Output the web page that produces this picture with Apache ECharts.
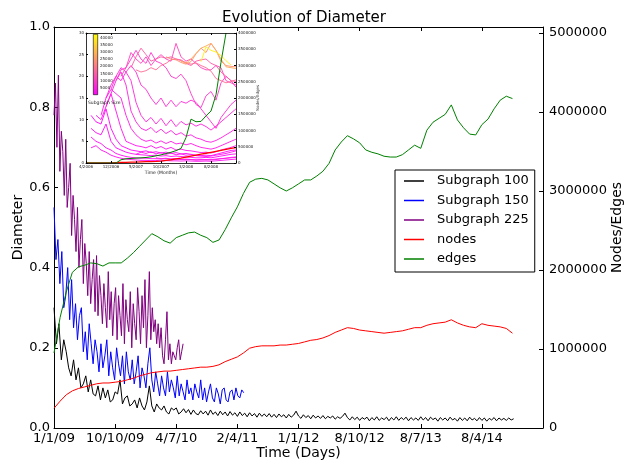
<!DOCTYPE html>
<html><head><meta charset="utf-8">
<script src="https://cdn.jsdelivr.net/npm/echarts@6/dist/echarts.min.js"></script>
<style>html,body{margin:0;padding:0;background:#fff}#c{width:624px;height:461px}</style>
</head><body><div id="c"></div>
<script>
// ---------- main chart data ----------
const xTickLabels = ['1/1/09','10/10/09','4/7/10','2/4/11','1/1/12','8/10/12','8/7/13','8/4/14'];
const xTickStep = 250;

const sub100Step = 10;
const sub100 = [
0.30,0.21,0.26,0.17,0.22,0.19,0.15,0.13,0.17,0.12,
0.15,0.10,0.11,0.13,0.09,0.12,0.085,0.08,0.105,0.07,
0.10,0.075,0.095,0.065,0.07,0.09,0.085,0.12,0.06,0.075,
0.08,0.055,0.06,0.07,0.05,0.075,0.055,0.045,0.065,0.105,
0.055,0.04,0.06,0.05,0.045,0.055,0.04,0.035,0.05,0.045,
0.05,0.035,0.04,0.048,0.038,0.046,0.034,0.045,0.036,0.033,
0.043,0.035,0.042,0.032,0.045,0.034,0.04,0.031,0.042,0.033,
0.04,0.03,0.041,0.032,0.038,0.029,0.04,0.031,0.037,0.028,
0.038,0.03,0.036,0.027,0.037,0.029,0.035,0.028,0.036,0.027,
0.034,0.026,0.035,0.028,0.033,0.025,0.034,0.027,0.032,0.042,
0.03,0.024,0.033,0.026,0.031,0.023,0.032,0.025,0.03,0.024,
0.031,0.023,0.029,0.025,0.03,0.022,0.028,0.024,0.029,0.037,
0.026,0.02,0.028,0.021,0.027,0.019,0.026,0.022,0.027,0.018,
0.026,0.02,0.028,0.019,0.025,0.021,0.027,0.018,0.026,0.02,
0.028,0.019,0.026,0.021,0.027,0.018,0.026,0.02,0.025,0.019,
0.028,0.02,0.026,0.018,0.027,0.021,0.025,0.017,0.026,0.02,
0.025,0.018,0.027,0.02,0.024,0.017,0.026,0.019,0.025,0.018,
0.027,0.02,0.024,0.018,0.026,0.019,0.025,0.017,0.024,0.02,
0.026,0.018,0.025,0.02,0.024,0.019,0.025,0.02,0.023
];

const sub150Step = 8;
const sub150 = [
0.55,0.42,0.47,0.36,0.44,0.30,0.33,0.40,0.27,0.37,
0.25,0.31,0.22,0.28,0.30,0.19,0.24,0.17,0.26,0.21,
0.16,0.22,0.19,0.14,0.21,0.15,0.18,0.22,0.13,0.19,
0.15,0.12,0.20,0.16,0.13,0.18,0.11,0.19,0.14,0.12,
0.17,0.11,0.14,0.18,0.10,0.15,0.13,0.10,0.16,0.20,
0.12,0.09,0.14,0.11,0.08,0.13,0.10,0.08,0.14,0.09,
0.12,0.10,0.075,0.13,0.08,0.11,0.09,0.07,0.12,0.085,
0.10,0.07,0.11,0.09,0.075,0.12,0.07,0.10,0.065,0.09,
0.11,0.075,0.065,0.10,0.085,0.06,0.095,0.10,0.07,0.065,
0.09,0.095,0.07,0.10,0.08,0.075,0.095,0.088
];

const sub225Step = 6;
const sub225 = [
0.78,0.86,0.70,0.88,0.64,0.74,0.69,0.58,0.72,0.55,
0.60,0.66,0.48,0.58,0.52,0.44,0.55,0.40,0.47,0.52,
0.36,0.46,0.41,0.33,0.44,0.31,0.37,0.42,0.29,0.43,
0.28,0.38,0.33,0.26,0.36,0.30,0.25,0.39,0.27,0.34,
0.23,0.31,0.35,0.22,0.33,0.28,0.23,0.36,0.21,0.32,
0.27,0.24,0.34,0.20,0.31,0.26,0.22,0.35,0.29,0.21,
0.33,0.25,0.37,0.20,0.28,0.39,0.22,0.30,0.24,0.27,
0.21,0.26,0.20,0.25,0.18,0.16,0.22,0.29,0.17,0.21,
0.16,0.19,0.18,0.17,0.20,0.22,0.17,0.19,0.21
];

const nodesStep = 25;
const nodesMillions = [
0.25,0.34,0.42,0.47,0.50,0.52,0.54,0.56,0.57,0.57,
0.58,0.59,0.61,0.63,0.66,0.68,0.70,0.71,0.72,0.72,
0.73,0.74,0.75,0.76,0.77,0.77,0.78,0.80,0.84,0.87,
0.90,0.95,1.01,1.03,1.04,1.04,1.04,1.05,1.05,1.06,
1.07,1.09,1.11,1.12,1.14,1.17,1.21,1.24,1.27,1.26,
1.24,1.23,1.22,1.21,1.20,1.21,1.22,1.23,1.25,1.27,
1.27,1.30,1.32,1.33,1.34,1.37,1.33,1.30,1.28,1.27,
1.32,1.30,1.29,1.28,1.26,1.20
];

const edgesStep = 25;
const edgesMillions = [
0.95,1.40,1.72,1.97,2.04,2.06,2.09,2.08,2.05,2.09,
2.09,2.09,2.15,2.22,2.30,2.38,2.46,2.42,2.37,2.34,
2.41,2.44,2.47,2.48,2.44,2.41,2.35,2.38,2.51,2.66,
2.80,2.97,3.11,3.15,3.16,3.14,3.09,3.04,3.00,3.04,
3.09,3.14,3.14,3.19,3.25,3.35,3.52,3.62,3.70,3.66,
3.61,3.52,3.49,3.47,3.44,3.43,3.43,3.46,3.52,3.58,
3.54,3.77,3.87,3.92,3.97,4.09,3.90,3.80,3.72,3.71,
3.84,3.91,4.04,4.15,4.20,4.17
];

// ---------- inset data ----------
const insetXLabels = ['4/2006','12/2006','5/2007','10/2007','3/2008','8/2008'];
const insetXStep = 5;
const insetStarts = [1,1,1,1,2,3,4,4,5,6,7,9,10,16,19,23,10,14];
const insetSizes  = [1000,1500,2000,2500,3000,4000,5000,6000,7000,9000,11000,15000,18000,24000,28000,40500,3500,4500];
const insetValues = [
[11,9.5,9,12.5,8,5.5,4,3.5,3,2.8,2.6,2.8,2.4,2.6,2.3,2.5,2.2,2.4,2.1,2.2,2,1.8,1.7,1.8,1.7,2,2.3,2.6,2.9,3],
[8,7,6.5,9,5,3.5,3,2.5,2.2,2,1.9,1.8,1.7,1.8,1.6,1.7,1.5,1.6,1.5,1.4,1.3,1.2,1.2,1.3,1.2,1.4,1.6,1.8,2,2.1],
[6,5,4.5,3.5,3,2.2,1.8,1.5,1.3,1.2,1.1,1.1,1,1,0.9,1,0.9,0.9,0.8,0.8,0.8,0.7,0.7,0.8,0.7,0.8,1,1.1,1.2,1.3],
[3.5,4,3,2.5,1.8,1.4,1.1,0.9,0.8,0.7,0.6,0.6,0.55,0.6,0.5,0.55,0.5,0.5,0.45,0.5,0.45,0.4,0.4,0.45,0.4,0.5,0.6,0.7,0.8,0.9],
[11,10,13,16,12,8,5,4.5,4,3.8,3.5,4,3.4,3.8,3.2,3.6,3,3.2,2.9,2.8,2.6,2.4,2.5,2.3,2.6,3,3.3,3.6,4],
[11,15,17,16,15,11,8,6.5,5.5,5,5.3,4.6,5.1,4.5,5,4.4,4.6,4.2,4.5,4,3.6,3.4,3.2,3.5,4,4.5,5,5.5],
[13,16,19,21,18,12,9.5,8,7.5,8.2,7,7.8,6.8,7.5,6.5,7,6.2,6.5,5.8,5.5,5,4.8,5.2,5.8,6.5,7.2,8],
[15,18,20,19,21,19,14,11,9.5,10.5,9,10.3,8.6,10,8.4,9.6,8.8,9.2,8.5,9,8.4,7.6,8.5,9.5,10.5,11.5,12.5],
[17,20,22,21,22.5,21,18,17,15,13.5,15,13,14.5,13,14.2,13.8,14.5,14,12.5,11,9.5,8,10.5,12,13.5,14.5],
[19,21.5,22,24,26,24,23,25.5,23.5,23,22,20,19.5,20.5,19,16,13.5,12.8,15.5,16.5,14.5,18.5,20,19,17.5],
[20,22,25.5,24,23,24.5,22.5,24,25,24,23.5,27.6,24.5,23.5,24,23,22,21.5,21.5,22.5,22,19,18.5,18],
[22,24.5,26.5,25,23.5,24,24.5,24.2,24.5,24,23.8,23,22.5,23.5,23.8,24,23,22.5,21,20,19,18.8],
[21.5,21,21.3,22,21.5,22.5,23,23.8,24,23.6,23.2,22.8,23.1,22.5,22,21.2,19.5,19,18.5,18.8,19.2],
[24.5,24,23.8,23.2,22.8,23.4,25.2,26.5,25.5,27.6,26,23.5,22.5,22.3,22.2],
[23.5,23,24,25.3,26.5,27,27.6,26,24,22.2,22,21.8],
[23.4,26.8,26,25.6,24.8,23.6,22.6],
[2,2.5,2.2,2.6,2.1,2.4,2,2.3,1.9,2.1,1.8,1.9,1.7,1.6,1.5,1.6,1.8,2,2.2,2.5,2.8],
[1.2,1,1.1,0.9,1,0.8,0.9,0.8,0.7,0.8,0.7,0.8,0.9,1,1.1,1.3,1.4]
];
const insetNodes = [0,0,0,0,0,5000,10000,15000,20000,25000,30000,35000,40000,45000,50000,60000,80000,100000,125000,150000,180000,210000,240000,270000,300000,330000,360000,390000,420000,450000,470000];
const insetEdges = [0,0,0,0,0,0,0,100000,130000,140000,150000,160000,170000,190000,220000,250000,290000,330000,380000,450000,780000,1350000,1270000,1280000,1450000,1600000,2100000,3100000,4000000];
const colorbarMax = 42700;
const colorbarTicks = [5000,10000,15000,20000,25000,30000,35000,40000];

// ---------- build ----------
const FONT = 'DejaVu Sans';
const stepped = (arr, step, scale) => arr.map((v, i) => [i * step, v * (scale || 1)]);
function spring(size) {
  const t = Math.max(0, Math.min(1, size / colorbarMax));
  return 'rgb(255,' + Math.round(255 * t) + ',' + Math.round(255 * (1 - t)) + ')';
}
const axLine = (w) => ({ show: true, onZero: false, lineStyle: { color: '#000', width: w } });
const tickIn = (len) => ({ inside: true, length: len, lineStyle: { color: '#000', width: 1 } });

const series = [
  { name: 'Subgraph 100', type: 'line', data: stepped(sub100, sub100Step), xAxisIndex: 0, yAxisIndex: 0,
    symbol: 'none', lineStyle: { color: '#000000', width: 1 }, itemStyle: { color: '#000000' } },
  { name: 'Subgraph 150', type: 'line', data: stepped(sub150, sub150Step), xAxisIndex: 0, yAxisIndex: 0,
    symbol: 'none', lineStyle: { color: '#0000ff', width: 1 }, itemStyle: { color: '#0000ff' } },
  { name: 'Subgraph 225', type: 'line', data: stepped(sub225, sub225Step), xAxisIndex: 0, yAxisIndex: 0,
    symbol: 'none', lineStyle: { color: '#800080', width: 1 }, itemStyle: { color: '#800080' } },
  { name: 'nodes', type: 'line', data: stepped(nodesMillions, nodesStep, 1e6), xAxisIndex: 0, yAxisIndex: 1,
    symbol: 'none', lineStyle: { color: '#ff0000', width: 1 }, itemStyle: { color: '#ff0000' } },
  { name: 'edges', type: 'line', data: stepped(edgesMillions, edgesStep, 1e6), xAxisIndex: 0, yAxisIndex: 1,
    symbol: 'none', lineStyle: { color: '#008000', width: 1 }, itemStyle: { color: '#008000' } }
];

insetValues.forEach((vals, k) => {
  const c = spring(insetSizes[k]);
  series.push({ type: 'line', xAxisIndex: 2, yAxisIndex: 2, symbol: 'none', silent: true,
    data: vals.map((v, i) => [insetStarts[k] + i, v]),
    lineStyle: { color: c, width: 0.9 }, z: 3 });
});
series.push({ type: 'line', xAxisIndex: 2, yAxisIndex: 3, symbol: 'none', silent: true,
  data: insetNodes.map((v, i) => [i, v]), lineStyle: { color: '#ff0000', width: 1.3 }, z: 4 });
series.push({ type: 'line', xAxisIndex: 2, yAxisIndex: 3, symbol: 'none', silent: true,
  data: insetEdges.map((v, i) => [i, v]), lineStyle: { color: '#008000', width: 1 }, z: 4 });
series.push({ type: 'bar', xAxisIndex: 4, yAxisIndex: 4, silent: true, barWidth: '100%',
  data: [colorbarMax],
  itemStyle: { borderColor: '#000', borderWidth: 0.6,
    color: { type: 'linear', x: 0, y: 1, x2: 0, y2: 0,
      colorStops: [{ offset: 0, color: spring(0) }, { offset: 0.5, color: spring(colorbarMax / 2) }, { offset: 1, color: spring(colorbarMax) }] } } });

const insetLbl = { fontSize: 4, color: '#222', fontFamily: FONT, margin: 2 };

const option = {
  animation: false,
  backgroundColor: '#fff',
  textStyle: { fontFamily: FONT },
  title: { text: 'Evolution of Diameter', left: 299, textAlign: 'center', top: 6,
    textStyle: { fontSize: 15, fontWeight: 'normal', color: '#000', fontFamily: FONT } },
  legend: {
    data: ['Subgraph 100', 'Subgraph 150', 'Subgraph 225', 'nodes', 'edges'],
    orient: 'vertical', left: 395, top: 170, icon: 'rect', itemWidth: 20, itemHeight: 1.5,
    itemGap: 3.5, padding: [3, 6, 5, 9], borderColor: '#000', borderWidth: 1, backgroundColor: '#fff',
    textStyle: { fontSize: 13, color: '#000', fontFamily: FONT, lineHeight: 16, padding: [0, 0, 0, 8] },
    selectedMode: false
  },
  grid: [
    { left: 54, top: 27, width: 489, height: 401, containLabel: false, outerBoundsMode: 'none' },
    { left: 86, top: 33, width: 150, height: 130, containLabel: false, outerBoundsMode: 'none',
      show: true, backgroundColor: '#fff', borderWidth: 0, z: 2 },
    { left: 93, top: 34, width: 5, height: 61, containLabel: false, outerBoundsMode: 'none', z: 5 }
  ],
  xAxis: [
    { type: 'value', gridIndex: 0, min: 0, max: 2000, interval: xTickStep, position: 'bottom',
      axisLine: axLine(1), axisTick: tickIn(4), splitLine: { show: false },
      axisLabel: { fontSize: 13, color: '#000', margin: 4, fontFamily: FONT,
        formatter: v => xTickLabels[Math.round(v / xTickStep)] || '' },
      name: 'Time (Days)', nameLocation: 'middle', nameGap: 18, nameMoveOverlap: false,
      nameTextStyle: { fontSize: 14, color: '#000', fontFamily: FONT } },
    { type: 'value', gridIndex: 0, min: 0, max: 2000, interval: xTickStep, position: 'top',
      axisLine: axLine(1), axisTick: tickIn(4), axisLabel: { show: false }, splitLine: { show: false } },
    { type: 'value', gridIndex: 1, min: 0, max: 30, interval: insetXStep, position: 'bottom',
      axisLine: axLine(0.8), axisTick: tickIn(2), splitLine: { show: false },
      axisLabel: Object.assign({}, insetLbl, { formatter: v => insetXLabels[Math.round(v / insetXStep)] || '' }),
      name: 'Time (Months)', nameLocation: 'middle', nameGap: 7, nameMoveOverlap: false,
      nameTextStyle: { fontSize: 4.5, color: '#222', fontFamily: FONT }, z: 6 },
    { type: 'value', gridIndex: 1, min: 0, max: 30, interval: insetXStep, position: 'top',
      axisLine: axLine(0.8), axisTick: tickIn(2),
      axisLabel: { show: false }, splitLine: { show: false }, z: 6 },
    { type: 'category', gridIndex: 2, data: ['c'], show: false }
  ],
  yAxis: [
    { type: 'value', gridIndex: 0, min: 0, max: 1, interval: 0.2, position: 'left',
      axisLine: axLine(1), axisTick: tickIn(4), splitLine: { show: false },
      axisLabel: { fontSize: 13, color: '#000', margin: 4, fontFamily: FONT, formatter: v => v.toFixed(1) },
      name: 'Diameter', nameLocation: 'middle', nameGap: 29, nameRotate: 90, nameMoveOverlap: false,
      nameTextStyle: { fontSize: 14, color: '#000', fontFamily: FONT } },
    { type: 'value', gridIndex: 0, min: 0, max: 5076000, interval: 1000000, position: 'right',
      axisLine: axLine(1), axisTick: tickIn(4), splitLine: { show: false },
      axisLabel: { fontSize: 13, color: '#000', margin: 6, fontFamily: FONT,
        formatter: v => (v % 1000000 === 0 ? String(v) : '') },
      name: 'Nodes/Edges', nameLocation: 'middle', nameGap: 67, nameRotate: 90, nameMoveOverlap: false,
      nameTextStyle: { fontSize: 14, color: '#000', fontFamily: FONT } },
    { type: 'value', gridIndex: 1, min: 0, max: 30, interval: 5, position: 'left',
      axisLine: axLine(0.8), axisTick: tickIn(2), splitLine: { show: false },
      axisLabel: insetLbl, z: 6 },
    { type: 'value', gridIndex: 1, min: 0, max: 4000000, interval: 500000, position: 'right',
      axisLine: axLine(0.8), axisTick: tickIn(2), splitLine: { show: false },
      axisLabel: Object.assign({}, insetLbl, { formatter: v => String(v) }),
      name: 'Nodes/Edges', nameLocation: 'middle', nameGap: 20, nameRotate: 90, nameMoveOverlap: false,
      nameTextStyle: { fontSize: 4, color: '#333', fontFamily: FONT }, z: 6 },
    { type: 'value', gridIndex: 2, min: 0, max: colorbarMax, interval: 5000, position: 'right',
      axisLine: { show: false }, axisTick: { show: false }, splitLine: { show: false },
      axisLabel: Object.assign({}, insetLbl, { formatter: v => (colorbarTicks.indexOf(v) >= 0 ? String(v) : '') }),
      name: 'Subgraph Size', nameLocation: 'start', nameGap: 5, nameMoveOverlap: false,
      nameTextStyle: { fontSize: 4.5, color: '#222', fontFamily: FONT, align: 'left', padding: [0, 0, 0, -10] }, z: 6 }
  ],
  series: series
};

const chart = echarts.init(document.getElementById('c'), null, { renderer: 'canvas' });
chart.setOption(option);
</script>
</body></html>
